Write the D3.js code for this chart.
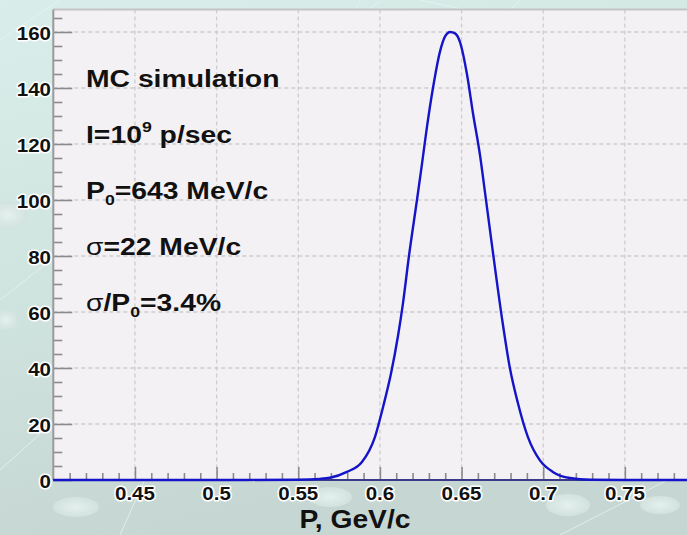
<!DOCTYPE html>
<html><head><meta charset="utf-8">
<script src="https://cdn.jsdelivr.net/npm/d3@7/dist/d3.min.js"></script>
<style>
html,body{margin:0;padding:0;overflow:hidden;background:#d3e3df;}
svg{display:block;}
</style></head><body>
<svg id="c" width="687" height="535"></svg>
<script>
// ---- data ----
const pValues = [0.40, 0.50, 0.55, 0.5633, 0.5694, 0.5798, 0.5890, 0.5970, 0.6019, 0.6068, 0.6111, 0.6141, 0.6178, 0.6227, 0.6258, 0.6288, 0.6325, 0.6368, 0.6400, 0.6430, 0.6460, 0.6490, 0.6533, 0.6570, 0.6613, 0.6643, 0.6686, 0.6747, 0.6796, 0.6845, 0.6906, 0.6980, 0.7059, 0.7164, 0.7290, 0.75, 0.80];
const counts  = [0, 0, 0.1, 0.4, 0.8, 2.9, 6.4, 15.4, 26, 38, 51.5, 63, 80, 100, 113, 126, 140, 153, 158.5, 160, 159.5, 156.5, 145, 131, 116, 103, 84, 58, 40, 27.5, 15.4, 7, 2.9, 0.7, 0.1, 0, 0];
const xTicks = [0.45, 0.5, 0.55, 0.6, 0.65, 0.7, 0.75, 0.8];
const xTickLabels = ["0.45", "0.5", "0.55", "0.6", "0.65", "0.7", "0.75", ""];
const yTicks = [0, 20, 40, 60, 80, 100, 120, 140, 160];
const yTickLabels = ["0", "20", "40", "60", "80", "100", "120", "140", "160"];
const xTitle = "P, GeV/c";

const svg = d3.select("#c");
const W = 687, H = 535;
const x = d3.scaleLinear().domain([0.4, 0.8]).range([53.3, 706.5]);
const y = d3.scaleLinear().domain([0, 168]).range([480, 9.6]);
const FONT = "'Liberation Sans', Arial, Helvetica, sans-serif";

// ---- background ----
const defs = svg.append("defs");
const bg = defs.append("linearGradient").attr("id","bg").attr("x1","0").attr("y1","0").attr("x2","0.3").attr("y2","1");
bg.append("stop").attr("offset","0").attr("stop-color","#d9eeea");
bg.append("stop").attr("offset","0.5").attr("stop-color","#d0e4df");
bg.append("stop").attr("offset","1").attr("stop-color","#c6d6d2");
svg.append("rect").attr("width",W).attr("height",H).attr("fill","url(#bg)");
const eg = defs.append("radialGradient").attr("id","eg");
eg.append("stop").attr("offset","0").attr("stop-color","#e4f0ee");
eg.append("stop").attr("offset","1").attr("stop-color","#d2e2de");
const deco = svg.append("g");
[[0,300,380,0.9],[0,470,520,0.8],[120,535,360,0.7],[420,0,700,60],[560,535,687,470],[0,40,60,0]].forEach(l=>{
  deco.append("line").attr("x1",l[0]).attr("y1",l[1]).attr("x2",l[2]).attr("y2",l[3])
    .attr("stroke","#e8f4f2").attr("stroke-width",1).attr("opacity",0.8);
});
[[76,507,23,10],[330,497,22,10],[568,505,22,11],[8,215,20,14],[6,320,12,10],[660,505,20,9]].forEach(e=>{
  deco.append("ellipse").attr("cx",e[0]).attr("cy",e[1]).attr("rx",e[2]).attr("ry",e[3]).attr("fill","url(#eg)");
});

// ---- plot area ----
const x0 = x.range()[0], x1 = x.range()[1], yTop = y.range()[1], yBot = y.range()[0];
svg.append("rect").attr("x",x0).attr("y",yTop).attr("width",x1-x0).attr("height",yBot-yTop).attr("fill","#f4f1f5");

// grid
const grid = svg.append("g").attr("stroke","#cdcdcd").attr("stroke-width",1.3).attr("stroke-dasharray","4,3");
grid.selectAll(".gx").data(xTicks).join("line")
  .attr("x1",d=>x(d)).attr("x2",d=>x(d)).attr("y1",yTop).attr("y2",yBot);
grid.selectAll(".gy").data(yTicks.filter(d=>d>0)).join("line")
  .attr("x1",x0).attr("x2",x1).attr("y1",d=>y(d)).attr("y2",d=>y(d));

// frame
svg.append("line").attr("x1",x0).attr("x2",x1).attr("y1",yTop).attr("y2",yTop).attr("stroke","#c4c4c4").attr("stroke-width",2);

// axes ticks
const xMinor = d3.range(0.41, 0.8, 0.01).filter(v=>!xTicks.some(t=>Math.abs(t-v)<1e-6));
const yMinor = d3.range(5, 168, 5).filter(v=>v%20!==0);
const axX = svg.append("g").attr("transform",`translate(0,${yBot})`)
  .call(d3.axisBottom(x).tickValues(xTicks).tickSize(-13).tickFormat(""));
const axXm = svg.append("g").attr("transform",`translate(0,${yBot})`)
  .call(d3.axisBottom(x).tickValues(xMinor).tickSize(-7).tickFormat(""));
const axY = svg.append("g").attr("transform",`translate(${x0},0)`)
  .call(d3.axisLeft(y).tickValues(yTicks).tickSize(-19).tickFormat(""));
const axYm = svg.append("g").attr("transform",`translate(${x0},0)`)
  .call(d3.axisLeft(y).tickValues(yMinor).tickSize(-9).tickFormat(""));
[axX,axXm,axY,axYm].forEach(g=>{ g.select(".domain").remove(); g.selectAll("line").attr("stroke","#8a8a8a").attr("stroke-width",1.6); });
svg.append("line").attr("x1",x0).attr("x2",x0).attr("y1",yTop).attr("y2",yBot).attr("stroke","#9a9a9a").attr("stroke-width",2);
svg.append("line").attr("x1",x0).attr("x2",x1).attr("y1",yBot).attr("y2",yBot).attr("stroke","#3a3a8a").attr("stroke-width",2);

// curve
const line = d3.line().x((d,i)=>x(pValues[i])).y(d=>y(d)).curve(d3.curveMonotoneX);
svg.append("path").attr("d",line(counts)).attr("fill","none").attr("stroke","#1414c8").attr("stroke-width",2.4).attr("stroke-linejoin","round");

// tick labels
function halo(sel){ return sel.attr("font-family",FONT).attr("font-weight","bold").attr("fill","#111")
  .attr("stroke","#ffffff").attr("stroke-width",3).attr("stroke-linejoin","round").attr("paint-order","stroke"); }
svg.append("g").selectAll("text").data(yTicks).join("text")
  .attr("transform",d=>`translate(51,${y(d)+7.5}) scale(1.08,1)`)
  .attr("text-anchor","end").attr("font-size",19)
  .text((d,i)=>yTickLabels[i]).call(halo);
svg.append("g").selectAll("text").data(xTicks.filter((d,i)=>xTickLabels[i])).join("text")
  .attr("transform",d=>`translate(${x(d)},500) scale(1.08,1)`)
  .attr("text-anchor","middle").attr("font-size",19)
  .text((d,i)=>xTickLabels[i]).call(halo);
svg.append("text").attr("transform","translate(355,528) scale(1.13,1)")
  .attr("text-anchor","middle").attr("font-size",25).attr("font-family",FONT).attr("font-weight","bold").attr("fill","#111")
  .text(xTitle);

// annotations
const ann = svg.append("g").attr("font-family",FONT).attr("font-weight","bold").attr("fill","#111").attr("font-size",24);
function tl(yb){ return ann.append("text").attr("transform",`translate(86,${yb}) scale(1.18,1)`); }
tl(87).text("MC simulation");
let t = tl(143); t.append("tspan").text("I=10"); t.append("tspan").attr("font-size",15).attr("dy",-11).text("9");
t.append("tspan").attr("dy",11).text(" p/sec");
t = tl(199); t.append("tspan").text("P"); t.append("tspan").attr("font-size",15).attr("dy",6).text("0");
t.append("tspan").attr("dy",-6).text("=643 MeV/c");
t = tl(255); t.append("tspan").attr("font-weight","normal").text("σ"); t.append("tspan").text("=22 MeV/c");
t = tl(311); t.append("tspan").attr("font-weight","normal").text("σ"); t.append("tspan").text("/P");
t.append("tspan").attr("font-size",15).attr("dy",6).text("0"); t.append("tspan").attr("dy",-6).text("=3.4%");
</script>
</body></html>
